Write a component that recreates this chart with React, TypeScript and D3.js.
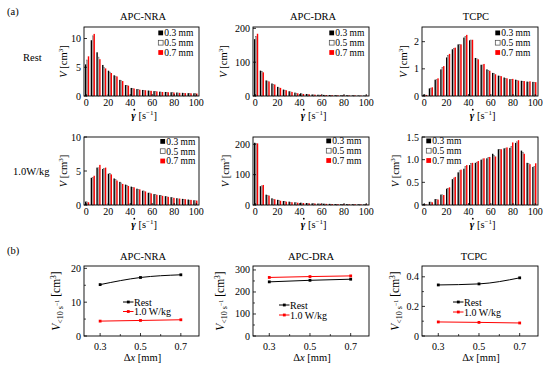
import React from "react";
import * as d3 from "d3";

const FONT = "Liberation Serif, Times New Roman, serif";

// ---------- data ----------
const SHEAR_BINS = [0, 1, 2, 3, 4, 5, 6, 7, 8, 9, 10, 11, 12, 13, 14, 15, 16, 17, 18, 19];
const SHEAR_TICKS = [0, 20, 40, 60, 80, 100];
const GAP_LABELS = ["0.3 mm", "0.5 mm", "0.7 mm"];

// APC-NRA, rest
const NRA_REST_03 = [5.5, 9.7, 7.6, 5.4, 4.4, 3.6, 2.8, 1.9, 1.4, 1.2, 1.05, 0.95, 0.85, 0.75, 0.7, 0.65, 0.6, 0.55, 0.5, 0.47];
const NRA_REST_05 = [6.3, 10.5, 6.8, 5.0, 4.2, 3.5, 2.7, 1.85, 1.35, 1.15, 1.0, 0.9, 0.8, 0.72, 0.67, 0.62, 0.58, 0.52, 0.48, 0.45];
const NRA_REST_07 = [6.9, 10.8, 6.4, 4.8, 4.0, 3.4, 2.6, 1.8, 1.3, 1.1, 1.0, 0.9, 0.8, 0.7, 0.65, 0.6, 0.55, 0.5, 0.47, 0.43];
// APC-DRA, rest
const DRA_REST_03 = [168, 75, 46, 37, 27, 19, 14, 10, 8, 6, 4.5, 3.8, 3.2, 2.8, 2.4, 2.1, 1.9, 1.7, 1.5, 1.4];
const DRA_REST_05 = [177, 73, 45, 35, 25, 18, 13, 9, 7, 5.5, 4.2, 3.5, 3.0, 2.6, 2.2, 2.0, 1.8, 1.6, 1.4, 1.3];
const DRA_REST_07 = [184, 70, 43, 34, 24, 17, 12, 8, 6, 5, 4.0, 3.3, 2.8, 2.4, 2.1, 1.9, 1.7, 1.5, 1.3, 1.2];
// TCPC, rest
const TCPC_REST_03 = [0.05, 0.28, 0.6, 0.98, 1.42, 1.72, 1.9, 2.15, 2.05, 1.4, 1.15, 0.98, 0.85, 0.75, 0.68, 0.62, 0.6, 0.56, 0.53, 0.52];
const TCPC_REST_05 = [0.05, 0.3, 0.62, 1.05, 1.5, 1.75, 1.9, 2.2, 2.07, 1.38, 1.15, 0.95, 0.83, 0.74, 0.66, 0.62, 0.58, 0.54, 0.52, 0.5];
const TCPC_REST_07 = [0.04, 0.32, 0.65, 1.1, 1.55, 1.78, 1.9, 2.25, 2.07, 1.35, 1.18, 0.93, 0.8, 0.73, 0.65, 0.63, 0.57, 0.55, 0.54, 0.51];
// APC-NRA, 1.0 W/kg
const NRA_EX_03 = [0.5, 4.0, 5.5, 5.3, 4.6, 3.9, 3.4, 3.0, 2.7, 2.4, 2.1, 1.8, 1.6, 1.45, 1.3, 1.15, 1.0, 0.9, 0.8, 0.7];
const NRA_EX_05 = [0.5, 4.1, 5.5, 5.4, 4.7, 3.8, 3.3, 2.9, 2.6, 2.3, 2.1, 1.8, 1.6, 1.4, 1.25, 1.1, 0.95, 0.85, 0.75, 0.65];
const NRA_EX_07 = [0.4, 4.3, 5.9, 5.5, 4.5, 3.6, 3.1, 2.8, 2.6, 2.3, 2.0, 1.7, 1.5, 1.35, 1.2, 1.05, 0.95, 0.85, 0.75, 0.65];
// APC-DRA, 1.0 W/kg
const DRA_EX_03 = [205, 62, 34, 22, 17, 13, 11, 9, 7.5, 6.5, 5.5, 4.8, 4.2, 3.8, 3.3, 3.0, 2.7, 2.5, 2.3, 2.1];
const DRA_EX_05 = [204, 64, 33, 20, 15, 12, 10, 8, 7.0, 6.0, 5.0, 4.5, 4.0, 3.5, 3.1, 2.8, 2.6, 2.4, 2.2, 2.0];
const DRA_EX_07 = [203, 66, 31, 19, 14, 11, 9, 7.5, 6.5, 5.5, 4.8, 4.2, 3.8, 3.3, 3.0, 2.7, 2.5, 2.3, 2.1, 1.9];
// TCPC, 1.0 W/kg
const TCPC_EX_03 = [0.02, 0.07, 0.13, 0.23, 0.36, 0.57, 0.72, 0.8, 0.88, 0.93, 1.0, 1.03, 1.13, 1.23, 1.25, 1.26, 1.37, 1.2, 0.93, 0.84];
const TCPC_EX_05 = [0.02, 0.07, 0.13, 0.23, 0.37, 0.6, 0.76, 0.85, 0.92, 0.95, 1.02, 1.05, 1.1, 1.23, 1.26, 1.3, 1.4, 1.17, 0.92, 0.86];
const TCPC_EX_07 = [0.01, 0.06, 0.12, 0.22, 0.39, 0.62, 0.78, 0.88, 0.93, 0.97, 1.03, 1.06, 1.07, 1.23, 1.27, 1.38, 1.43, 1.13, 0.9, 0.92];

// (b) volume with shear rate < 10 s^-1 vs grid spacing
const DX_VALUES = [0.3, 0.5, 0.7];
const DX_TICKS = [0.3, 0.5, 0.7];
const NRA_V10_REST = [15.2, 17.3, 18.1];
const NRA_V10_EX = [4.4, 4.6, 4.8];
const DRA_V10_REST = [246, 253, 258];
const DRA_V10_EX = [266, 270, 273];
const TCPC_V10_REST = [0.345, 0.352, 0.393];
const TCPC_V10_EX = [0.095, 0.092, 0.088];
const LINE_LABELS = ["Rest", "1.0 W/kg"];

// ---------- styles ----------
const BAR_STYLE = [
  { fill: "#000", stroke: "none", sw: 0 },
  { fill: "#fff", stroke: "#555", sw: 0.5 },
  { fill: "#ff0000", stroke: "none", sw: 0 },
];
const LINE_COLORS = ["#000", "#ff0000"];
const TXT = { fontFamily: FONT } as React.CSSProperties;

type BarSpec = {
  title?: string;
  titleX?: number;
  left: number; right: number; top: number; bottom: number;
  yMax: number; yTicks: number[]; yFmt: (v: number) => string;
  series: number[][];
  legendX: number; legendY: number; legendDy: number;
  yLabelX: number;
};

const fmtInt = (v: number) => String(v);
const fmt1 = (v: number) => (v === 0 ? "0" : d3.format(".1f")(v));

function GammaLabel({ x, y }: { x: number; y: number }) {
  // gamma with a separate dot (shear rate symbol)
  const gx = x - 9;
  return (
    <g>
      <text x={gx} y={y} textAnchor="middle" fontSize={11} fontStyle="italic" fontWeight="bold" style={TXT}>γ</text>
      <circle cx={gx + 0.8} cy={y - 9.3} r={0.9} fill="#000" />
      <text x={gx + 5} y={y} textAnchor="start" fontSize={10.5} style={TXT}>
        <tspan>[s</tspan>
        <tspan dy={-4} fontSize={7}>−1</tspan>
        <tspan dy={4}>]</tspan>
      </text>
    </g>
  );
}

function VLabel({ x, y }: { x: number; y: number }) {
  return (
    <text transform={`translate(${x},${y}) rotate(-90)`} textAnchor="middle" fontSize={10.5} style={TXT}>
      <tspan fontStyle="italic">V</tspan>
      <tspan> [cm</tspan>
      <tspan dy={-4} fontSize={7}>3</tspan>
      <tspan dy={4}>]</tspan>
    </text>
  );
}

function V10Label({ x, y }: { x: number; y: number }) {
  return (
    <text transform={`translate(${x},${y}) rotate(-90)`} textAnchor="middle" fontSize={11.5} style={TXT}>
      <tspan fontStyle="italic">V</tspan>
      <tspan dy={3} fontSize={8}>{"<10 s"}</tspan>
      <tspan dy={-4} fontSize={6}>−1</tspan>
      <tspan dy={1}>{"  [cm"}</tspan>
      <tspan dy={-4} fontSize={7.5}>3</tspan>
      <tspan dy={4}>]</tspan>
    </text>
  );
}

function BarPanel({ s }: { s: BarSpec }) {
  const x = d3.scaleLinear().domain([-2, 102.5]).range([s.left, s.right]);
  const pos = d3.scalePoint<number>().domain(SHEAR_BINS).range([x(0) + 0.9, x(100) - 0.9]);
  const sub = d3.scaleBand<string>().domain(GAP_LABELS).range([-2.1, 2.1]);
  const y = d3.scaleLinear().domain([0, s.yMax]).range([s.bottom, s.top]);
  const w = sub.bandwidth();
  return (
    <g>
      {s.series.map((vals, k) =>
        vals.map((v, i) => {
          const st = BAR_STYLE[k];
          const bx = (pos(SHEAR_BINS[i]) as number) + (sub(GAP_LABELS[k]) as number);
          const inset = st.sw / 2;
          return (
            <rect
              key={`${k}-${i}`}
              x={bx + inset}
              y={y(v) + inset}
              width={Math.max(0.2, w - 2 * inset)}
              height={Math.max(0, y(0) - y(v) - inset)}
              fill={st.fill}
              stroke={st.stroke}
              strokeWidth={st.sw}
            />
          );
        })
      )}
      <rect x={s.left} y={s.top} width={s.right - s.left} height={s.bottom - s.top} fill="none" stroke="#000" strokeWidth={0.9} />
      {s.yTicks.map((t) => (
        <g key={t}>
          <line x1={s.left} x2={s.left + 3} y1={y(t)} y2={y(t)} stroke="#000" strokeWidth={0.8} />
          <text x={s.left - 3} y={y(t) + 3.5} textAnchor="end" fontSize={10} style={TXT}>{s.yFmt(t)}</text>
        </g>
      ))}
      {SHEAR_TICKS.map((t) => (
        <g key={t}>
          <line x1={x(t)} x2={x(t)} y1={s.bottom} y2={s.bottom - 2} stroke="#000" strokeWidth={0.8} />
          <text x={x(t)} y={s.bottom + 9.5} textAnchor="middle" fontSize={10} style={TXT}>{t}</text>
        </g>
      ))}
      {GAP_LABELS.map((lab, k) => {
        const st = BAR_STYLE[k];
        const ly = s.legendY + k * s.legendDy;
        return (
          <g key={lab}>
            <rect x={s.legendX + 0.3} y={ly - 2.5} width={4.8} height={4.8} fill={st.fill} stroke={k === 1 ? "#444" : "none"} strokeWidth={0.7} />
            <text x={s.legendX + 6.3} y={ly + 3.2} fontSize={9.5} style={TXT}>{lab}</text>
          </g>
        );
      })}
      {s.title && (
        <text x={s.titleX} y={19.5} textAnchor="middle" fontSize={10.5} style={TXT}>{s.title}</text>
      )}
      <GammaLabel x={(s.left + s.right) / 2 + 1} y={s.bottom + 23} />
      <VLabel x={s.yLabelX} y={(s.top + s.bottom) / 2} />
    </g>
  );
}

type LineSpec = {
  title: string; titleX: number;
  left: number; right: number; top: number; bottom: number;
  yMax: number; yTicks: number[]; yMinor: number[]; yFmt: (v: number) => string;
  series: number[][];
  legendX: number; legendY: number; legendDy: number;
  yLabelX: number;
};

function LinePanel({ s }: { s: LineSpec }) {
  const x = d3.scaleLinear().domain([0.22, 0.79]).range([s.left, s.right]);
  const y = d3.scaleLinear().domain([0, s.yMax]).range([s.bottom, s.top]);
  const line = d3
    .line<number>()
    .x((_, i) => x(DX_VALUES[i]))
    .y((v) => y(v))
    .curve(d3.curveMonotoneX);
  const minorX = [0.4, 0.6];
  return (
    <g>
      <rect x={s.left} y={s.top} width={s.right - s.left} height={s.bottom - s.top} fill="none" stroke="#000" strokeWidth={0.9} />
      {s.series.map((vals, k) => (
        <g key={k}>
          <path d={line(vals) || ""} fill="none" stroke={LINE_COLORS[k]} strokeWidth={1} />
          {vals.map((v, i) => (
            <rect key={i} x={x(DX_VALUES[i]) - 1.4} y={y(v) - 1.4} width={2.8} height={2.8} fill={LINE_COLORS[k]} />
          ))}
        </g>
      ))}
      {s.yTicks.map((t) => (
        <g key={t}>
          <line x1={s.left} x2={s.left + 3} y1={y(t)} y2={y(t)} stroke="#000" strokeWidth={0.8} />
          <text x={s.left - 3} y={y(t) + 3.5} textAnchor="end" fontSize={10} style={TXT}>{s.yFmt(t)}</text>
        </g>
      ))}
      {s.yMinor.map((t) => (
        <line key={t} x1={s.left} x2={s.left + 2} y1={y(t)} y2={y(t)} stroke="#000" strokeWidth={0.7} />
      ))}
      {DX_TICKS.map((t) => (
        <g key={t}>
          <line x1={x(t)} x2={x(t)} y1={s.bottom} y2={s.bottom - 3} stroke="#000" strokeWidth={0.8} />
          <text x={x(t)} y={s.bottom + 14} textAnchor="middle" fontSize={10} style={TXT}>{t}</text>
        </g>
      ))}
      {minorX.map((t) => (
        <line key={t} x1={x(t)} x2={x(t)} y1={s.bottom} y2={s.bottom - 2} stroke="#000" strokeWidth={0.7} />
      ))}
      {LINE_LABELS.map((lab, k) => {
        const ly = s.legendY + k * s.legendDy;
        return (
          <g key={lab}>
            <line x1={s.legendX} x2={s.legendX + 10.5} y1={ly} y2={ly} stroke={LINE_COLORS[k]} strokeWidth={1} />
            <rect x={s.legendX + 3.9} y={ly - 1.4} width={2.8} height={2.8} fill={LINE_COLORS[k]} />
            <text x={s.legendX + 11} y={ly + 3.5} fontSize={10} style={TXT}>{lab}</text>
          </g>
        );
      })}
      <text x={s.titleX} y={260} textAnchor="middle" fontSize={10.5} style={TXT}>{s.title}</text>
      <text x={(s.left + s.right) / 2 + 1} y={s.bottom + 25} textAnchor="middle" fontSize={10.5} style={TXT}>
        <tspan>Δ</tspan>
        <tspan fontStyle="italic">x</tspan>
        <tspan> [mm]</tspan>
      </text>
      <V10Label x={s.yLabelX} y={(s.top + s.bottom) / 2} />
    </g>
  );
}

const COLS = [
  { left: 84, right: 199 },
  { left: 253, right: 369 },
  { left: 422, right: 538 },
];

export default function App() {
  const barSpecs: BarSpec[] = [
    { title: "APC-NRA", titleX: 143, ...COLS[0], top: 27, bottom: 96, yMax: 12, yTicks: [0, 5, 10], yFmt: fmtInt,
      series: [NRA_REST_03, NRA_REST_05, NRA_REST_07], legendX: 158, legendY: 33, legendDy: 9.8, yLabelX: 67 },
    { title: "APC-DRA", titleX: 313, ...COLS[1], top: 27, bottom: 96, yMax: 204, yTicks: [0, 100, 200], yFmt: fmtInt,
      series: [DRA_REST_03, DRA_REST_05, DRA_REST_07], legendX: 329, legendY: 33, legendDy: 9.8, yLabelX: 227 },
    { title: "TCPC", titleX: 476, ...COLS[2], top: 27, bottom: 96, yMax: 2.54, yTicks: [0, 1, 2], yFmt: fmtInt,
      series: [TCPC_REST_03, TCPC_REST_05, TCPC_REST_07], legendX: 495, legendY: 33, legendDy: 9.8, yLabelX: 407 },
    { ...COLS[0], top: 137, bottom: 205, yMax: 10, yTicks: [0, 5, 10], yFmt: fmtInt,
      series: [NRA_EX_03, NRA_EX_05, NRA_EX_07], legendX: 160, legendY: 141.5, legendDy: 9.8, yLabelX: 67 },
    { ...COLS[1], top: 137, bottom: 205, yMax: 224, yTicks: [0, 100, 200], yFmt: fmtInt,
      series: [DRA_EX_03, DRA_EX_05, DRA_EX_07], legendX: 326, legendY: 141, legendDy: 9.8, yLabelX: 229 },
    { ...COLS[2], top: 137, bottom: 205, yMax: 1.5, yTicks: [0, 0.5, 1, 1.5], yFmt: fmt1,
      series: [TCPC_EX_03, TCPC_EX_05, TCPC_EX_07], legendX: 426, legendY: 141, legendDy: 9.8, yLabelX: 399 },
  ];
  const lineSpecs: LineSpec[] = [
    { title: "APC-NRA", titleX: 143, ...COLS[0], top: 266, bottom: 336, yMax: 20.7, yTicks: [0, 10, 20], yMinor: [5, 15], yFmt: fmtInt,
      series: [NRA_V10_REST, NRA_V10_EX], legendX: 123, legendY: 302, legendDy: 9.5, yLabelX: 60 },
    { title: "APC-DRA", titleX: 311, ...COLS[1], top: 266, bottom: 336, yMax: 318, yTicks: [0, 100, 200, 300], yMinor: [50, 150, 250], yFmt: fmtInt,
      series: [DRA_V10_REST, DRA_V10_EX], legendX: 279, legendY: 305, legendDy: 10, yLabelX: 223.5 },
    { title: "TCPC", titleX: 474, ...COLS[2], top: 266, bottom: 336, yMax: 0.473, yTicks: [0, 0.2, 0.4], yMinor: [0.1, 0.3], yFmt: (v) => (v === 0 ? "0" : String(v)),
      series: [TCPC_V10_REST, TCPC_V10_EX], legendX: 453, legendY: 302, legendDy: 10, yLabelX: 399 },
  ];
  return (
    <svg width={550} height={367} style={{ position: "absolute", left: 0, top: 0, background: "#fff", fontFamily: FONT }}>
      <rect x={0} y={0} width={550} height={367} fill="#fff" />
      <text x={7} y={15} fontSize={10.5} style={TXT}>(a)</text>
      <text x={7} y={254} fontSize={10.5} style={TXT}>(b)</text>
      <text x={23} y={61} fontSize={10.5} style={TXT}>Rest</text>
      <text x={13} y={175} fontSize={10.5} style={TXT}>1.0W/kg</text>
      {barSpecs.map((s, i) => <BarPanel key={i} s={s} />)}
      {lineSpecs.map((s, i) => <LinePanel key={i} s={s} />)}
    </svg>
  );
}
